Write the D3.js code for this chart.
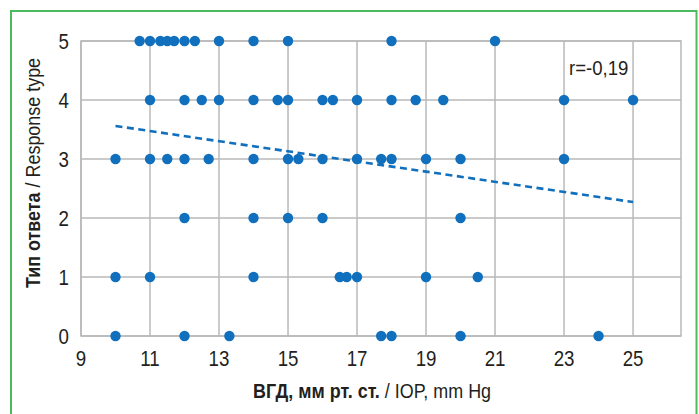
<!DOCTYPE html>
<html>
<head>
<meta charset="utf-8">
<script src="https://cdn.jsdelivr.net/npm/d3@7/dist/d3.min.js"></script>
<style>
  html, body { margin: 0; padding: 0; background: #fff; }
  svg { display: block; }
</style>
</head>
<body>
<svg id="chart" width="699" height="414"></svg>
<script>
// ---- data ----
const xTicks = [9, 11, 13, 15, 17, 19, 21, 23, 25];
const yTicks = [0, 1, 2, 3, 4, 5];

const row5 = [10.7, 11, 11.3, 11.5, 11.7, 12, 12.3, 13, 14, 15, 18, 21];
const row4 = [11, 12, 12.5, 13, 14, 14.7, 15, 16, 16.3, 17, 18, 18.7, 19.5, 23, 25];
const row3 = [10, 11, 11.5, 12, 12.7, 14, 15, 15.3, 16, 17, 17.7, 18, 19, 20, 23];
const row2 = [12, 14, 15, 16, 20];
const row1 = [10, 11, 14, 16.5, 16.7, 17, 19, 20.5];
const row0 = [10, 12, 13.3, 17.7, 18, 20, 24];

const trendX = [10, 25];
const trendY = [3.56, 2.27];

const rLabel = "r=-0,19";

// ---- build points ----
const rows = [[0, row0], [1, row1], [2, row2], [3, row3], [4, row4], [5, row5]];
const points = [];
rows.forEach(([yv, xs]) => xs.forEach(xv => points.push({x: xv, y: yv})));

const svg = d3.select("#chart");
const FONT = "'Liberation Sans', Arial, sans-serif";
const SX = 0.85;
const BLUE = "#1170bd";
const GRID = "#b9b9b9";
const TXT = "#231f20";

// condensed text helper
function ctext(parent, tx, ty, size, anchor, sx, rot) {
  const gg = parent.append("g")
    .attr("transform", `translate(${tx},${ty})` + (rot ? ` rotate(${rot})` : "") + ` scale(${sx},1)`);
  return gg.append("text")
    .attr("text-anchor", anchor)
    .attr("font-family", FONT).attr("font-size", size)
    .attr("fill", TXT);
}

// green frame
svg.append("rect")
  .attr("x", 11).attr("y", 11)
  .attr("width", 685.5).attr("height", 420)
  .attr("fill", "none")
  .attr("stroke", "#4cbb5f")
  .attr("stroke-width", 2);

const x = d3.scaleLinear().domain([9, 26.39]).range([81, 681]);
const y = d3.scaleLinear().domain([0, 5]).range([336, 41]);

const g = svg.append("g");

// plot border
g.append("rect")
  .attr("x", x(9)).attr("y", y(5))
  .attr("width", x.range()[1] - x(9))
  .attr("height", y(0) - y(5))
  .attr("fill", "none")
  .attr("stroke", GRID)
  .attr("stroke-width", 1.5);

// vertical grid
g.selectAll(".vg").data(xTicks).enter().append("line")
  .attr("x1", d => x(d)).attr("x2", d => x(d))
  .attr("y1", y(0)).attr("y2", y(5))
  .attr("stroke", GRID).attr("stroke-width", 1.5);

// horizontal grid
g.selectAll(".hg").data(yTicks).enter().append("line")
  .attr("x1", x(9)).attr("x2", x.range()[1])
  .attr("y1", d => y(d)).attr("y2", d => y(d))
  .attr("stroke", GRID).attr("stroke-width", 1.5);

// x tick labels
xTicks.forEach(d => {
  ctext(g, x(d), 366, 22, "middle", SX).text(d);
});

// y tick labels
yTicks.forEach(d => {
  ctext(g, 69, y(d), 22, "end", SX).attr("dy", "0.36em").text(d);
});

// points
g.selectAll(".pt").data(points).enter().append("circle")
  .attr("cx", d => x(d.x)).attr("cy", d => y(d.y))
  .attr("r", 5.2)
  .attr("fill", BLUE);

// trend line
const trend = trendX.map((v, i) => [v, trendY[i]]);
g.append("path")
  .datum(trend)
  .attr("d", d3.line().x(d => x(d[0])).y(d => y(d[1])))
  .attr("fill", "none")
  .attr("stroke", BLUE)
  .attr("stroke-width", 2.6)
  .attr("stroke-dasharray", "7,4.5");

// r label
ctext(g, 569, 75, 20, "start", 0.93).text(rLabel);

// x axis title
const xt = ctext(g, 372, 398, 19.5, "middle", 0.92);
xt.append("tspan").attr("font-weight", "bold").text("ВГД, мм рт. ст.");
xt.append("tspan").text(" / IOP, mm Hg");

// y axis title
const yt = ctext(g, 40, 173, 19.5, "middle", 0.92, -90);
yt.append("tspan").attr("font-weight", "bold").text("Тип ответа");
yt.append("tspan").text(" / Response type");
</script>
</body>
</html>
